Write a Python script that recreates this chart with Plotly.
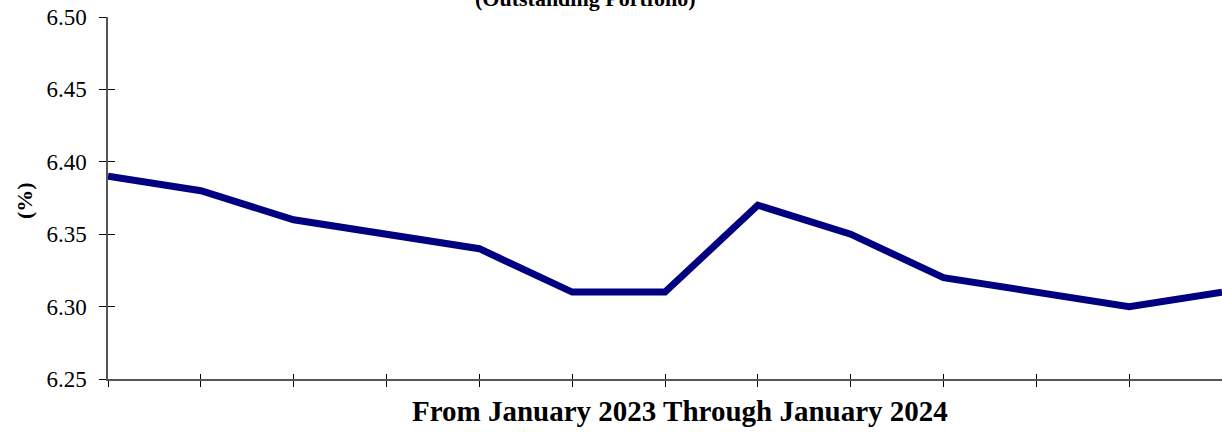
import plotly.graph_objects as go

months = ["Jan 2023", "Feb 2023", "Mar 2023", "Apr 2023", "May 2023", "Jun 2023",
          "Jul 2023", "Aug 2023", "Sep 2023", "Oct 2023", "Nov 2023", "Dec 2023", "Jan 2024"]
rates = [6.39, 6.38, 6.36, 6.35, 6.34, 6.31, 6.31, 6.37, 6.35, 6.32, 6.31, 6.30, 6.31]
y_ticks = [6.25, 6.30, 6.35, 6.40, 6.45, 6.50]
y_labels = ["6.25", "6.30", "6.35", "6.40", "6.45", "6.50"]

idx = list(range(len(months)))
FONT = "Liberation Serif, Times New Roman, serif"

L, R, T, B = 108, 0, 17, 53
W, H = 1222, 432
PW, PH = W - L - R, H - T - B


def px_x(p):
    return (p - L) / PW


def px_y(p):
    return (H - B - p) / PH


fig = go.Figure()
# invisible helper trace for the overlay axes (inside half of the crossing ticks)
fig.add_trace(go.Scatter(x=idx, y=rates, mode="markers", marker=dict(opacity=0),
                         xaxis="x2", yaxis="y2", hoverinfo="skip", showlegend=False))
fig.add_trace(go.Scatter(x=idx, y=rates, mode="lines",
                         line=dict(color="#000080", width=7),
                         hoverinfo="skip", showlegend=False, cliponaxis=False))

fig.update_layout(
    width=W, height=H,
    margin=dict(l=L, r=R, t=T, b=B, pad=0),
    paper_bgcolor="white", plot_bgcolor="white",
    font=dict(family=FONT, color="black", size=20),
    xaxis=dict(range=[0, 12], tickvals=idx, ticktext=months, showticklabels=False,
               ticks="outside", ticklen=6, tickcolor="black", tickwidth=1,
               showline=True, linecolor="#555555", linewidth=1.5,
               showgrid=False, zeroline=False),
    yaxis=dict(range=[6.25, 6.50], tickvals=y_ticks, ticktext=y_labels,
               ticks="outside", ticklen=7, tickcolor="black", tickwidth=1,
               ticklabelstandoff=8,
               showline=True, linecolor="#555555", linewidth=1.5,
               showgrid=False, zeroline=False,
               tickfont=dict(size=23, family=FONT)),
    xaxis2=dict(overlaying="x", anchor="y2", side="bottom", range=[0, 12], tickvals=idx,
                showticklabels=False, ticks="inside", ticklen=5, tickcolor="black",
                tickwidth=1, showgrid=False, zeroline=False, showline=False),
    yaxis2=dict(overlaying="y", anchor="x2", side="left", range=[6.25, 6.50], tickvals=y_ticks,
                showticklabels=False, ticks="inside", ticklen=7, tickcolor="black",
                tickwidth=1, showgrid=False, zeroline=False, showline=False),
    annotations=[
        dict(text="<b>(Outstanding Portfolio)</b>", xref="paper", yref="paper",
             x=px_x(585), y=px_y(-2), xanchor="center", yanchor="middle",
             showarrow=False, font=dict(size=22, family=FONT)),
        dict(text="<b>From January 2023 Through January 2024</b>", xref="paper", yref="paper",
             x=px_x(680), y=px_y(411), xanchor="center", yanchor="middle",
             showarrow=False, font=dict(size=29, family=FONT)),
        dict(text="<b>(%)</b>", xref="paper", yref="paper", textangle=-90,
             x=px_x(24), y=px_y(201), xanchor="center", yanchor="middle",
             showarrow=False, font=dict(size=22, family=FONT)),
    ],
)

fig.write_html("out.html", config={"displayModeBar": False},
               post_script="document.body.style.margin='0px';")
